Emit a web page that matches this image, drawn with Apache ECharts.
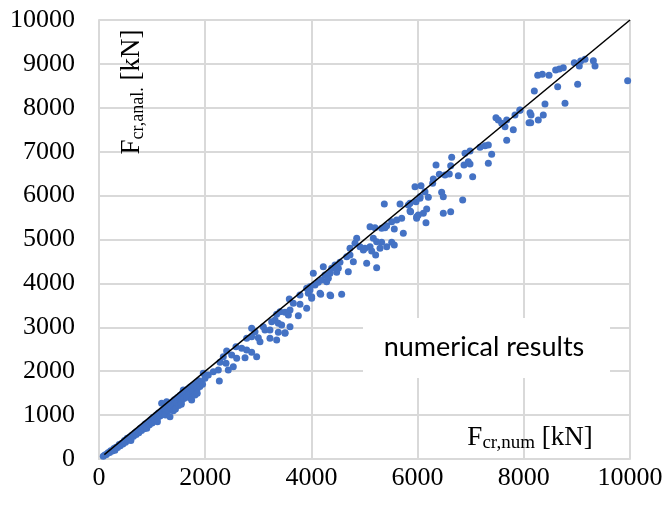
<!DOCTYPE html>
<html>
<head>
<meta charset="utf-8">
<script src="https://cdn.jsdelivr.net/npm/echarts@6/dist/echarts.min.js"></script>
<style>html,body{margin:0;padding:0;background:#fff}#c{width:667px;height:507px}</style>
</head>
<body>
<div id="c"></div>
<script>
// Axis ticks
const xTicks = [0, 2000, 4000, 6000, 8000, 10000];
const yTicks = [0, 1000, 2000, 3000, 4000, 5000, 6000, 7000, 8000, 9000, 10000];

// Reference line F_anal = F_num
const equalityLine = [[100, 100], [10000, 10000]];

// Numerical results, 0 - 2000 kN
const results0to2000 = [
  [80,60],[110,90],[140,100],[170,140],[200,150],[220,190],[250,180],[280,240],[300,200],[320,270],
  [350,260],[380,330],[400,300],[430,360],[450,340],[480,420],[500,380],[530,470],[550,430],[580,500],
  [600,460],[600,420],[620,540],[650,520],[680,600],[700,560],[720,630],[750,600],[780,700],[800,650],[820,730],
  [850,690],[870,800],[900,740],[900,700],[920,830],[950,780],[980,900],[1000,820],[1020,950],[1050,880],[1080,1000],
  [1100,930],[1100,850],[1120,1050],[1150,980],[1150,1000],[1180,1270],[1180,1100],[1200,1020],[1230,1150],[1250,1060],[1250,1000],[1274,1306],[1280,1200],
  [1300,1100],[1320,1250],[1337,963],[1350,1150],[1380,1300],[1400,1200],[1400,1100],[1420,1350],[1440,1140],[1460,1280],[1480,1400],
  [1500,1220],[1530,1450],[1550,1300],[1550,1250],[1570,1500],[1588,1572],[1600,1380],[1630,1520],[1650,1420],[1680,1600],[1700,1480],[1700,1400],
  [1720,1640],[1745,1344],[1760,1560],[1780,1680],[1808,1458],[1830,1720],[1850,1600],[1850,1500],[1880,1780],[1900,1650],[1934,1761],
  [1950,1700],[1964,1952],[1996,1838]
];
// Numerical results, 2000 - 4000 kN
const results2000to4000 = [
  [2058,1913],[2153,1989],[2247,2027],[2266,1777],[2279,2203],[2341,2331],[2392,2180],[2404,2460],[2435,2027],[2499,2369],
  [2529,2103],[2580,2558],[2593,2293],[2687,2521],[2750,2308],[2781,2749],[2781,2483],[2875,2977],[2875,2786],[2875,2430],
  [2938,2900],[2969,2331],[3000,2763],[3032,2672],[3094,3014],[3126,2938],[3220,2938],[3220,2749],[3252,3128],[3315,3166],
  [3346,3296],[3346,2711],[3377,3090],[3377,2885],[3409,3356],[3440,3052],[3503,3341],[3503,2863],[3503,2877],[3566,3280],
  [3584,3645],[3597,3394],[3597,3014],[3659,3546],[3754,3265],[3785,3736],[3785,3524],[3911,3432],[3911,3888],[3942,3774],
  [3974,3850],[3974,3925]
];
// Numerical results, 4000 - 6000 kN
const results4000to6000 = [
  [4005,3698],[4005,3660],[4036,4229],[4068,3963],[4130,4024],[4162,3774],[4175,3752],[4193,4077],[4224,4381],[4256,4191],
  [4287,4039],[4319,4115],[4350,4229],[4350,3736],[4363,3720],[4382,4343],[4445,4419],[4476,4252],[4507,4343],[4538,4480],
  [4570,3752],[4665,4608],[4695,4267],[4727,4799],[4727,4647],[4790,4494],[4821,4913],[4853,5027],[4915,4836],[4978,4761],
  [5009,4799],[5041,4457],[5104,5292],[5104,4836],[5135,4738],[5166,5027],[5198,5269],[5210,4647],[5229,4950],[5229,4358],
  [5292,4799],[5323,5255],[5323,4936],[5373,5809],[5386,5269],[5418,5315],[5418,4836],[5512,5406],[5512,4936],[5561,5239],
  [5561,4875],[5606,5444],[5669,5809],[5700,5482],[5731,5141],[5825,5786],[5857,5649],[5857,5824],[5869,5634],[5951,6203],
  [5970,5862],[5982,5520],[5982,5482]
];
// Numerical results, 6000 - 8000 kN
const results6000to8000 = [
  [6013,5558],[6045,5976],[6045,5938],[6064,6226],[6108,5596],[6139,6089],[6158,5383],[6171,5695],[6202,5961],[6284,6279],
  [6296,6378],[6347,6697],[6409,6485],[6453,6074],[6484,5976],[6484,5596],[6516,6469],[6597,6492],[6623,6682],[6623,5634],
  [6642,6872],[6767,6454],[6849,5900],[6874,6697],[6893,6963],[6955,6773],[6987,7016],[6987,6720],[7037,6431],[7175,7100],
  [7269,7137],[7332,7153],[7332,6736],[7395,6941],[7476,7775],[7520,7722],[7584,7646],[7646,7570],[7678,7722],[7678,7259],
  [7802,7501],[7834,7836],[7928,7942],[7928,7950]
];
// Numerical results, 8000 - 10000 kN
const results8000to10000 = [
  [8098,7661],[8117,7888],[8130,7661],[8136,7836],[8198,8383],[8262,8740],[8273,7722],[8349,8763],[8367,7836],[8399,8087],
  [8475,8740],[8600,8861],[8638,8481],[8669,8884],[8744,8914],[8776,8102],[8951,9028],[9014,8535],[9045,8952],[9071,9066],
  [9153,9104],[9310,9073],[9341,8952],[9956,8617]
];

const numericalResults = [].concat(results0to2000, results2000to4000, results4000to6000, results6000to8000, results8000to10000);

const chart = echarts.init(document.getElementById('c'), null, {renderer: 'canvas'});
const serif = '"Liberation Serif", "Times New Roman", serif';
const gridColor = '#d9d9d9';
const plain = v => String(v);

chart.setOption({
  backgroundColor: '#ffffff',
  animation: false,
  grid: {left: 99, top: 20, right: 37, bottom: 48, containLabel: false, outerBoundsMode: 'none'},
  xAxis: {
    type: 'value', min: xTicks[0], max: xTicks[xTicks.length - 1], interval: 2000,
    axisLine: {show: true, lineStyle: {color: gridColor, width: 2}},
    axisTick: {show: false},
    splitLine: {show: true, lineStyle: {color: gridColor, width: 2}},
    axisLabel: {color: '#000', fontFamily: serif, fontSize: 26, margin: 6, formatter: plain}
  },
  yAxis: {
    type: 'value', min: yTicks[0], max: yTicks[yTicks.length - 1], interval: 1000,
    axisLine: {show: true, lineStyle: {color: gridColor, width: 2}},
    axisTick: {show: false},
    splitLine: {show: true, lineStyle: {color: gridColor, width: 2}},
    axisLabel: {color: '#000', fontFamily: serif, fontSize: 26, margin: 24, formatter: plain}
  },
  graphic: [
    {type: 'rect', z: 50, shape: {x: 363, y: 318, width: 247, height: 60}, style: {fill: '#ffffff'}},
    {type: 'text', z: 60, x: 484, y: 347, style: {
      text: 'numerical results', fill: '#000', font: '27px Lato, "Open Sans", sans-serif',
      align: 'center', verticalAlign: 'middle'}},
    {type: 'text', z: 60, x: 530, y: 438, style: {
      text: '{m|F}{s|cr,num}{m| [kN]}', align: 'center', verticalAlign: 'middle',
      rich: {
        m: {fontFamily: serif, fontSize: 27, fill: '#000', lineHeight: 30},
        s: {fontFamily: serif, fontSize: 19, fill: '#000', verticalAlign: 'bottom', lineHeight: 30}
      }}},
    {type: 'text', z: 60, x: 132, y: 92, rotation: Math.PI / 2, style: {
      text: '{m|F}{s|cr,anal.}{m| [kN]}', align: 'center', verticalAlign: 'middle',
      rich: {
        m: {fontFamily: serif, fontSize: 27, fill: '#000', lineHeight: 30},
        s: {fontFamily: serif, fontSize: 18, fill: '#000', verticalAlign: 'bottom', lineHeight: 30}
      }}}
  ],
  series: [
    {
      type: 'scatter', name: 'numerical results', data: numericalResults,
      symbol: 'circle', symbolSize: 7, itemStyle: {color: '#4472C4', opacity: 1}, z: 3
    },
    {
      type: 'line', data: equalityLine, symbol: 'none', z: 4,
      lineStyle: {color: '#000', width: 1.5}
    }
  ]
});
</script>
</body>
</html>
